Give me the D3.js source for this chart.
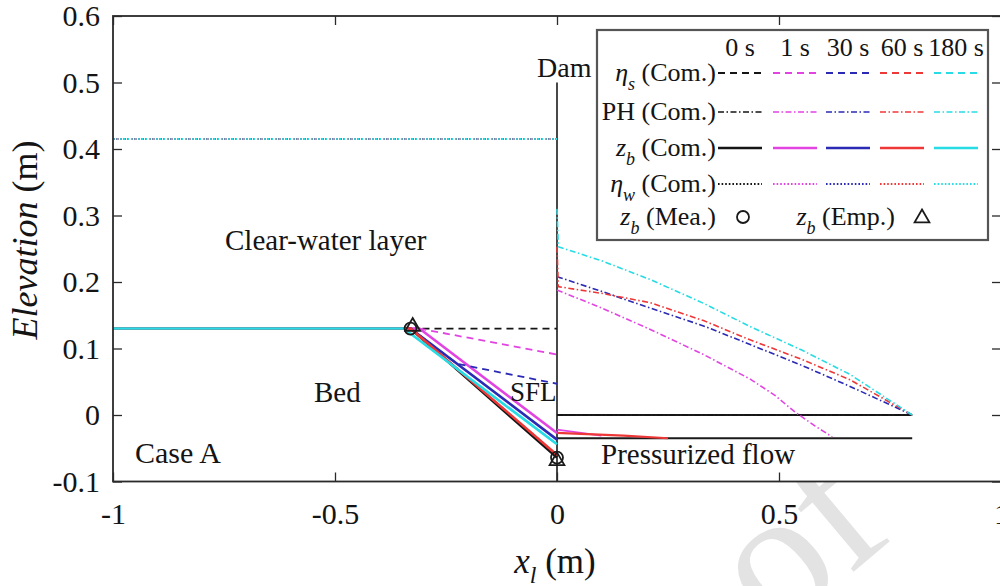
<!DOCTYPE html>
<html>
<head>
<meta charset="utf-8">
<script src="https://cdn.jsdelivr.net/npm/d3@7"></script>
<style>
  html, body { margin: 0; padding: 0; background: #fff; }
  svg { display: block; font-family: "Liberation Serif", "Times New Roman", serif; }
</style>
</head>
<body>
<svg id="chart" width="1000" height="586"></svg>
<script>
// ---- data ----------------------------------------------------------------
const times = ["0 s", "1 s", "30 s", "60 s", "180 s"];
const timeColors = ["#151515", "#e244e2", "#2a2ab4", "#ee3838", "#27dce4"];
const xTicks = [-1, -0.5, 0, 0.5, 1];
const yTicks = [-0.1, 0, 0.1, 0.2, 0.3, 0.4, 0.5, 0.6];

// bed elevation z_b (computed), [x_l, elevation]
const bed0   = [[-1, 0.13], [-0.33, 0.13], [0, -0.064]];
const bed1   = [[-1, 0.13], [-0.31, 0.13], [0, -0.027]];
const bed30  = [[-1, 0.13], [-0.33, 0.13], [0, -0.037]];
const bed60  = [[-1, 0.13], [-0.33, 0.13], [0, -0.060]];
const bed180 = [[-1, 0.13], [-0.345, 0.13], [0, -0.044]];

// sediment surface eta_s (computed)
const sed0   = [[-0.33, 0.13], [0, 0.13]];
const sed1   = [[-0.31, 0.13], [0, 0.091]];
const sed30  = [[-0.33, 0.13], [-0.225, 0.077], [0, 0.047]];
const sed60  = [[-0.33, 0.13], [0, -0.060]];
const sed180 = [[-0.345, 0.13], [0, -0.044]];

// pressure head PH downstream of the dam (computed)
const head0   = [[0, 0], [0.8, 0]];
const head1   = [[0, 0.188], [0.1, 0.161], [0.209, 0.129], [0.33, 0.091], [0.435, 0.054], [0.49, 0.03], [0.535, 0.005], [0.58, -0.016], [0.62, -0.033]];
const head30  = [[0, 0.208], [0.1, 0.186], [0.209, 0.161], [0.33, 0.134], [0.435, 0.106], [0.55, 0.075], [0.66, 0.043], [0.8, 0]];
const head60  = [[0, 0.253], [0.003, 0.193], [0.1, 0.183], [0.209, 0.169], [0.33, 0.142], [0.435, 0.113], [0.55, 0.084], [0.66, 0.053], [0.8, 0]];
const head180 = [[0, 0.31], [0.003, 0.253], [0.1, 0.232], [0.209, 0.204], [0.33, 0.168], [0.435, 0.133], [0.55, 0.098], [0.66, 0.061], [0.8, 0]];

// water surface eta_w (computed)
const water0   = [[-1, 0.415], [0, 0.415]];
const water1   = [[-1, 0.415], [0, 0.415]];
const water30  = [[-1, 0.415], [0, 0.415]];
const water60  = [[-1, 0.415], [0, 0.415]];
const water180 = [[-1, 0.415], [0, 0.415]];

// flow level inside the bottom outlet conduit
const conduit1  = [[0, -0.022], [0.1, -0.031]];
const conduit60 = [[0, -0.027], [0.15, -0.031], [0.25, -0.035]];

// bed elevation at the dam: measured and empirical
const bedMeasured  = [[-0.33, 0.13], [0, -0.064]];
const bedEmpirical = [[-0.325, 0.133], [0, -0.069]];

// dam and bottom outlet geometry
const damTop = 0.5;
const conduitTop = 0;
const conduitBottom = -0.035;
const conduitEnd = 0.8;

// ---- drawing --------------------------------------------------------------
const svg = d3.select("#chart");
const ink = "#141414";
const serif = "Liberation Serif, Times New Roman, serif";

const x = d3.scaleLinear().domain([-1, 1]).range([113, 1001]);
const y = d3.scaleLinear().domain([-0.1, 0.6]).range([481.5, 16]);
const line = d3.line().x(d => x(d[0])).y(d => y(d[1]));

// faint page watermark, partly hidden behind the axes area
svg.append("text")
  .attr("transform", "translate(896,536) rotate(-40)")
  .attr("text-anchor", "end")
  .attr("font-family", serif)
  .attr("font-size", 190)
  .attr("fill", "#e3e3e3")
  .text("proof");

// axes background
svg.append("rect")
  .attr("x", x(-1)).attr("y", y(0.6))
  .attr("width", x(1) - x(-1)).attr("height", y(-0.1) - y(0.6))
  .attr("fill", "#fff");

// dam wall and outlet conduit
const dam = svg.append("g").attr("stroke", "#1a1a1a").attr("fill", "none");
dam.append("line")
  .attr("x1", x(0)).attr("x2", x(0))
  .attr("y1", y(damTop)).attr("y2", y(-0.1))
  .attr("stroke-width", 1.6);
[conduitTop, conduitBottom].forEach(v => {
  dam.append("line")
    .attr("x1", x(0)).attr("x2", x(conduitEnd))
    .attr("y1", y(v)).attr("y2", y(v))
    .attr("stroke-width", 2);
});

const bedSeries   = [bed0, bed1, bed30, bed60, bed180];
const sedSeries   = [sed0, sed1, sed30, sed60, sed180];
const headSeries  = [head0, head1, head30, head60, head180];
const waterSeries = [water0, water1, water30, water60, water180];

const styles = {
  sed:   { dash: "7,5", width: 1.8 },
  head:  { dash: "6,2.5,1.5,2.5", width: 1.6 },
  bed:   { dash: null, width: 2.6 },
  water: { dash: "1.6,2", width: 1.9 }
};

const data = svg.append("g").attr("fill", "none");
function drawPath(g, pts, color, st) {
  g.append("path")
    .attr("d", line(pts))
    .attr("stroke", color)
    .attr("stroke-width", st.width)
    .attr("stroke-dasharray", st.dash)
    .attr("stroke-linejoin", "round");
}

times.forEach((t, i) => {
  const c = timeColors[i];
  drawPath(data, sedSeries[i], c, styles.sed);
  drawPath(data, headSeries[i], c, styles.head);
  drawPath(data, waterSeries[i], c, styles.water);
  drawPath(data, bedSeries[i], c, styles.bed);
});
drawPath(data, conduit1, timeColors[1], { dash: null, width: 1.6 });
drawPath(data, conduit60, timeColors[3], { dash: null, width: 2.2 });

// measured (circles) and empirical (triangles) bed elevation
const marks = svg.append("g").attr("fill", "none").attr("stroke", "#1a1a1a").attr("stroke-width", 1.8);
marks.selectAll("circle").data(bedMeasured).join("circle")
  .attr("cx", d => x(d[0])).attr("cy", d => y(d[1])).attr("r", 6);
const tri = d3.symbol().type(d3.symbolTriangle).size(95);
marks.selectAll("path").data(bedEmpirical).join("path")
  .attr("d", tri)
  .attr("transform", d => `translate(${x(d[0])},${y(d[1])})`);

// ---- axes -----------------------------------------------------------------
const fmt = d => String(d);
function styleAxis(g) {
  g.attr("font-family", serif).attr("font-size", 30);
  g.select(".domain").remove();
  g.selectAll(".tick line").attr("stroke", "#2a2a2a").attr("stroke-width", 1.3);
  g.selectAll(".tick text").attr("fill", ink);
}
svg.append("g").attr("transform", `translate(0,${y(-0.1)})`)
  .call(d3.axisBottom(x).tickValues(xTicks).tickSize(-9).tickPadding(21).tickFormat(fmt))
  .call(styleAxis);
svg.append("g").attr("transform", `translate(0,${y(0.6)})`)
  .call(d3.axisTop(x).tickValues(xTicks).tickSize(-9).tickFormat(""))
  .call(styleAxis);
svg.append("g").attr("transform", `translate(${x(-1)},0)`)
  .call(d3.axisLeft(y).tickValues(yTicks).tickSize(-9).tickPadding(13).tickFormat(fmt))
  .call(styleAxis);
svg.append("g").attr("transform", `translate(${x(1)},0)`)
  .call(d3.axisRight(y).tickValues(yTicks).tickSize(-9).tickFormat(""))
  .call(styleAxis);

svg.append("rect")
  .attr("x", x(-1)).attr("y", y(0.6))
  .attr("width", x(1) - x(-1)).attr("height", y(-0.1) - y(0.6))
  .attr("fill", "none").attr("stroke", "#2a2a2a").attr("stroke-width", 1.8);

// axis titles
const xl = svg.append("text")
  .attr("x", 555).attr("y", 573)
  .attr("text-anchor", "middle")
  .attr("font-family", serif).attr("font-size", 35).attr("fill", ink);
xl.append("tspan").attr("font-style", "italic").text("x");
xl.append("tspan").attr("font-style", "italic").attr("font-size", 24).attr("dy", 10).text("l");
xl.append("tspan").attr("dy", -10).text(" (m)");

const yl = svg.append("text")
  .attr("transform", "translate(37,240) rotate(-90)")
  .attr("text-anchor", "middle")
  .attr("font-family", serif).attr("font-size", 36).attr("fill", ink);
yl.append("tspan").attr("font-style", "italic").text("Elevation");
yl.append("tspan").text(" (m)");

// region annotations
const notes = svg.append("g").attr("font-family", serif).attr("fill", ink);
notes.append("text").attr("x", 225).attr("y", 250).attr("font-size", 29).text("Clear-water layer");
notes.append("text").attr("x", 314).attr("y", 402).attr("font-size", 29).text("Bed");
notes.append("text").attr("x", 510).attr("y", 401).attr("font-size", 27).text("SFL");
notes.append("text").attr("x", 135).attr("y", 463).attr("font-size", 30).text("Case A");
notes.append("text").attr("x", 601).attr("y", 464).attr("font-size", 29).text("Pressurized flow");
notes.append("text").attr("x", 537).attr("y", 77).attr("font-size", 28).text("Dam");

// ---- legend ---------------------------------------------------------------
const lg = svg.append("g").attr("font-family", serif).attr("fill", ink);
lg.append("rect")
  .attr("x", 597).attr("y", 30).attr("width", 391).attr("height", 210)
  .attr("fill", "#fff").attr("stroke", "#555").attr("stroke-width", 2.2);

const colCenters = [740, 795, 848, 902, 956];
const sampleHalf = 22;
times.forEach((t, i) => {
  lg.append("text")
    .attr("x", colCenters[i]).attr("y", 56)
    .attr("text-anchor", "middle").attr("font-size", 26)
    .text(t);
});

const rows = [
  { sym: "η", sub: "s", italicSym: true,  key: "sed",   y: 73 },
  { sym: "PH", sub: "",  italicSym: false, key: "head",  y: 112 },
  { sym: "z", sub: "b", italicSym: true,  key: "bed",   y: 148 },
  { sym: "η", sub: "w", italicSym: true,  key: "water", y: 184 }
];

function labelText(g, xPos, yBase, sym, sub, italicSym, tail) {
  const t = g.append("text")
    .attr("x", xPos).attr("y", yBase)
    .attr("text-anchor", "end").attr("font-size", 26);
  t.append("tspan").attr("font-style", italicSym ? "italic" : null).text(sym);
  if (sub) {
    t.append("tspan").attr("font-style", "italic").attr("font-size", 18).attr("dy", 9).text(sub);
    t.append("tspan").attr("dy", -9).text(" " + tail);
  } else {
    t.append("tspan").text(" " + tail);
  }
  return t;
}

rows.forEach(r => {
  labelText(lg, 716, r.y + 8, r.sym, r.sub, r.italicSym, "(Com.)");
  times.forEach((t, i) => {
    const st = styles[r.key];
    lg.append("line")
      .attr("x1", colCenters[i] - sampleHalf).attr("x2", colCenters[i] + sampleHalf)
      .attr("y1", r.y).attr("y2", r.y)
      .attr("stroke", timeColors[i])
      .attr("stroke-width", Math.min(st.width, 2.4))
      .attr("stroke-dasharray", st.dash);
  });
});

labelText(lg, 716, 225, "z", "b", true, "(Mea.)");
lg.append("circle").attr("cx", 743).attr("cy", 217).attr("r", 6)
  .attr("fill", "none").attr("stroke", "#1a1a1a").attr("stroke-width", 1.8);
labelText(lg, 895, 225, "z", "b", true, "(Emp.)");
lg.append("path").attr("d", tri)
  .attr("transform", "translate(922,218)")
  .attr("fill", "none").attr("stroke", "#1a1a1a").attr("stroke-width", 1.8);
</script>
</body>
</html>
